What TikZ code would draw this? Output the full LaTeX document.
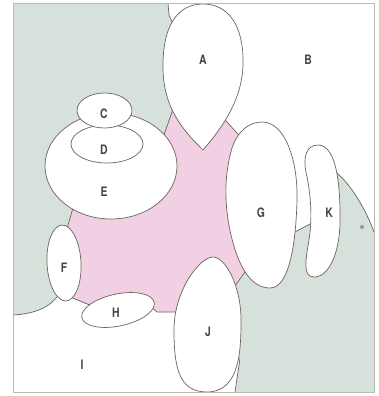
\documentclass[tikz,border=0pt]{standalone}
\usepackage{fontspec}
\newfontfamily\labfont[FakeStretch=0.8]{TeX Gyre Heros}
\definecolor{bggray}{RGB}{214,225,220}
\definecolor{bgpink}{RGB}{240,208,226}
\definecolor{edgecol}{RGB}{110,98,90}
\definecolor{labcol}{RGB}{75,68,62}
\definecolor{dotcol}{RGB}{140,150,168}
\begin{document}
\begin{tikzpicture}[x=1pt,y=-1pt,
  outline/.style={draw=edgecol, line width=0.7pt},
  blob/.style={outline, fill=white},
  lab/.style={font=\labfont\bfseries\fontsize{13}{13}\selectfont, text=labcol, inner sep=0pt}]
\useasboundingbox (0,0) rectangle (378,396);
\fill[white] (0,0) rectangle (378,396);
% background regions
\fill[bggray] (13,3) -- (168,3) -- (169,15) -- (178,35) -- (175.5,102) -- (161.5,142) -- (75,201) -- (66,232) -- (64,270) -- (58,296) -- (55,299) .. controls (48,308) and (33,314) .. (13,315) -- cycle;
\fill[bgpink] (175.5,102) -- (222,116.5) -- (242,138.5) -- (255,200) -- (249,266.5) -- (232,290) -- (200,305) -- (182,312) -- (157,312) -- (150,306) -- (118,305) -- (92,306) -- (68,296) -- (64,270) -- (66,232) -- (75,201) -- (161.5,142) -- cycle;
\fill[bggray] (328,170) -- (337,173) .. controls (352,186) and (366,210) .. (374,232) -- (374,392) -- (235,392) -- (239.5,362) -- (236,340) -- (232,290) -- (249,266.5) -- (272,275) -- (286,235) -- (293,233) -- (312,223) -- (320,222) -- (325,190) -- cycle;
% region boundaries
\draw[outline] (168,3) -- (169,15) -- (178,35);
\draw[outline] (175.5,102) -- (161.5,142);
\draw[outline] (222,116.5) -- (242,138.5);
\draw[outline] (75,201) -- (66,232);
\draw[outline] (58,296) -- (55,299) .. controls (48,308) and (33,314) .. (13,315);
\draw[outline] (68,296) -- (92,306);
\draw[outline] (150,306) -- (157,312) -- (182,312);
\draw[outline] (249,266.5) -- (232,290);
\draw[outline] (286,235) -- (293,233) -- (312,223) -- (320,222);
\draw[outline] (328,170) -- (337,173) .. controls (352,186) and (366,210) .. (374,232);
\draw[outline] (236,340) -- (239.5,362) -- (235,392);
% shapes
\draw[blob] (203,150) .. controls (188,135) and (164,112) .. (163,70) .. controls (162,25) and (178,4) .. (203,4) .. controls (228,4) and (244,25) .. (243,65) .. controls (242,100) and (222,128) .. (203,150) -- cycle;
\draw[blob] (111,166) ellipse [x radius=66, y radius=53];
\draw[blob] (107,144) ellipse [x radius=36, y radius=19];
\draw[blob] (104.5,110.5) ellipse [x radius=27.5, y radius=17.5];
\draw[blob, rotate around={3:(64,263)}] (64,263) ellipse [x radius=17, y radius=38];
\draw[blob, rotate around={12:(118,310)}] (118,310) ellipse [x radius=37, y radius=16];
\draw[blob] (262,122) .. controls (285,122) and (298,160) .. (297,200) .. controls (296,240) and (290,288) .. (270,288) .. controls (250,288) and (238,265) .. (231,235) .. controls (224,205) and (224,175) .. (232,148) .. controls (238,130) and (250,122) .. (262,122) -- cycle;
\draw[blob] (318,145) .. controls (306,145) and (303,158) .. (306,172) .. controls (310,190) and (313,215) .. (309,240) .. controls (306,258) and (302,277) .. (314,277) .. controls (330,277) and (341,250) .. (340,215) .. controls (340,175) and (334,145) .. (318,145) -- cycle;
\draw[blob] (213,257) .. controls (225,257) and (241,285) .. (241,320) .. controls (241,350) and (240,392) .. (207,392) .. controls (180,392) and (174,370) .. (174,330) .. controls (174,290) and (200,257) .. (213,257) -- cycle;
\fill[dotcol] (362,227) circle [radius=2];
% frame
\draw[gray!55, line width=0.6pt] (13,3) rectangle (374,392);
% labels
\node[lab] (la) at (203,60) {A};
\node[lab] (lb) at (308,60) {B};
\node[lab] (lc) at (104,114) {C};
\node[lab] (ld) at (104,150) {D};
\node[lab] (le) at (104,192) {E};
\node[lab] (lf) at (64,268) {F};
\node[lab] (lg) at (261,213) {G};
\node[lab] (lh) at (116,313) {H};
\node[lab] (li) at (82,365) {I};
\node[lab] (lj) at (208,332) {J};
\node[lab] (lk) at (329,213) {K};
\end{tikzpicture}
\end{document}
